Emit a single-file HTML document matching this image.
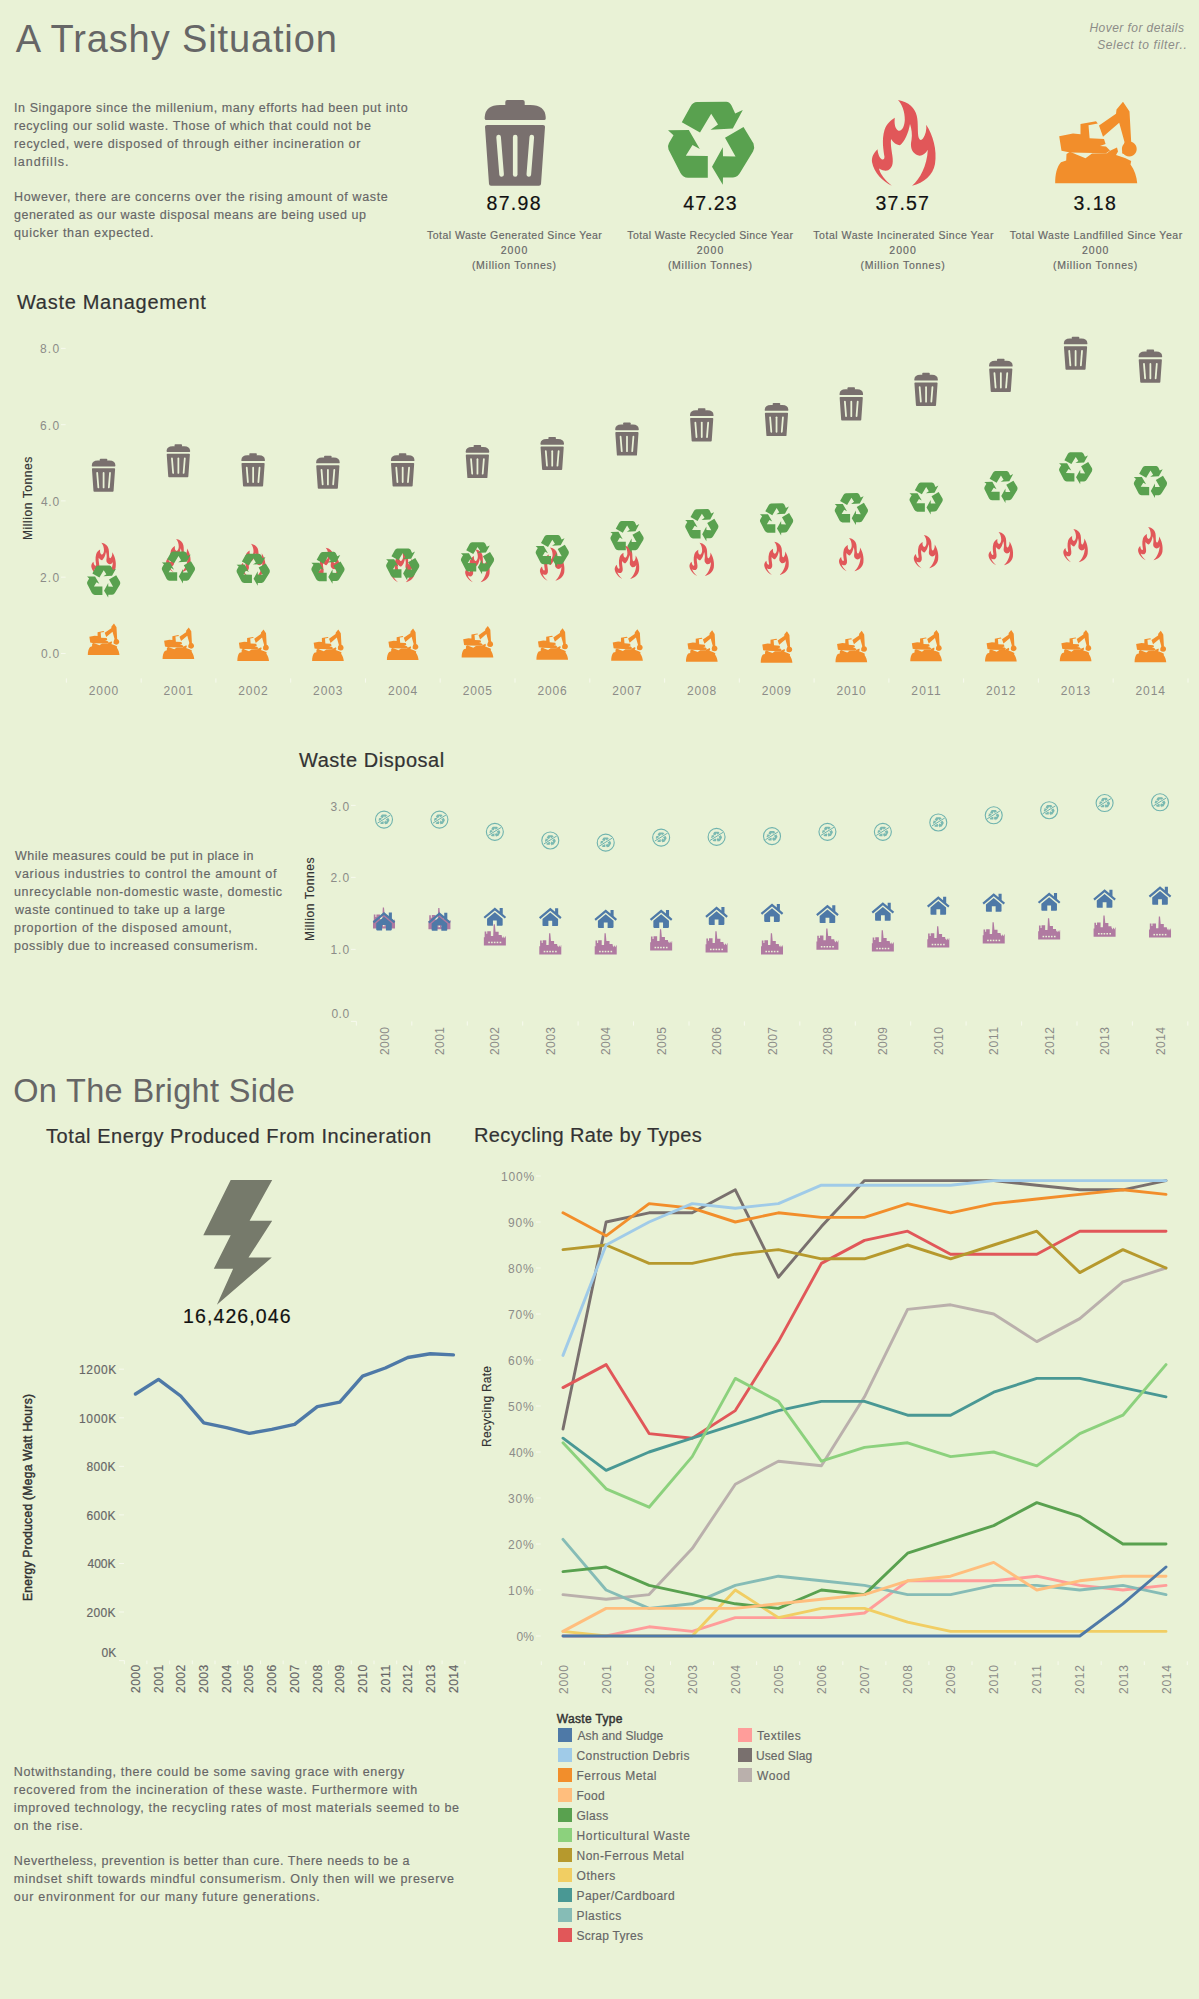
<!DOCTYPE html>
<html><head><meta charset="utf-8"><title>A Trashy Situation</title>
<style>
html,body{margin:0;padding:0;background:#E9F2D6;}
body{width:1199px;height:1999px;position:relative;overflow:hidden;font-family:"Liberation Sans",sans-serif;}
.t{position:absolute;height:60px;line-height:60px;white-space:pre;}
svg{position:absolute;left:0;top:0;}
</style></head><body>
<svg width="1199" height="1999" viewBox="0 0 1199 1999">
<defs><g id="i-recycle"><path d="M318,322 L405,165 Q428,120 470,120 L762,118 Q797,120 815,155 L852,235 L928,200 L828,385 L605,398 L680,345 L612,238 L500,425 Z" fill="#59A14F"/><path d="M935,370 L1035,535 Q1050,575 1030,615 L905,820 Q880,870 830,875 L730,876 L728,948 L620,768 L728,572 L730,662 L855,665 L750,478 Z" fill="#59A14F"/><path d="M180,402 L388,400 L498,590 L425,550 L358,658 L578,660 L578,878 L380,878 Q330,875 305,830 L185,595 Q172,560 190,530 L235,452 Z" fill="#59A14F"/></g><g id="i-flame"><path d="M418,958 C330,915 240,830 220,720 C215,670 235,630 275,592 C280,640 295,680 320,695 Q345,700 345,670 C335,600 315,500 345,400 C365,340 410,300 448,278 C442,330 448,385 480,405 C520,420 545,360 548,300 C550,220 520,140 480,100 C590,120 650,180 668,260 C685,330 672,430 688,480 Q705,515 730,485 C755,450 768,400 762,348 C830,450 872,600 850,740 C830,850 740,930 620,958 C700,890 770,760 778,598 C750,650 700,672 660,645 C615,615 600,570 615,500 C625,440 615,390 600,340 C585,430 545,520 500,552 C460,550 430,520 410,490 C400,580 440,680 425,740 C410,800 370,830 290,785 C300,840 350,900 418,958 Z" fill="#E15759"/></g><g id="i-exc"><path d="M152,932 C150,850 170,760 210,722 L262,705 L265,640 L300,618 L370,648 L455,682 L520,634 L670,632 L700,608 L770,575 L780,615 L760,650 L850,680 L912,710 L905,745 C945,800 968,870 972,932 Z" fill="#F28E2B"/><path d="M192,462 L330,436 L405,442 L405,340 L560,312 L578,335 L485,352 L496,482 L640,490 L656,540 L600,560 L660,566 L700,606 L660,632 L300,625 L215,608 Z" fill="#F28E2B"/><path d="M590,355 L760,238 L765,195 L830,118 L895,215 L912,520 L860,650 L820,632 L845,520 L792,328 L630,468 Z" fill="#F28E2B"/><path d="M893,516 A74,74 0 1 1 892.9,516 Z" fill="#F28E2B"/></g><g id="i-trash"><rect x="505.3" y="100" width="19.4" height="7" rx="2" fill="#79706E"/><path d="M484.7,118.5 L484.7,117 Q485.5,105 500,105 L530.4,105 Q544.9,105 545.7,117 L545.7,118.5 Q545.7,120 544.2,120 L486.2,120 Q484.7,120 484.7,118.5 Z" fill="#79706E"/><path d="M487,125 L543,125 Q545.2,125 545,127 L541,184 Q540.8,185.8 539,185.8 L491,185.8 Q489.2,185.8 489,184 L485,127 Q484.8,125 487,125 Z" fill="#79706E"/><g stroke="#E9F2D6" stroke-width="4.6" stroke-linecap="round"><line x1="498.6" y1="137" x2="501.6" y2="174.5"/><line x1="515.2" y1="137" x2="515.2" y2="174.5"/><line x1="531.8" y1="137" x2="528.8" y2="174.5"/></g></g><g id="i-house" fill="#4E79A7"><path d="M-11.3,0.1 L0,-9.4 L4.8,-5.4 L4.8,-8.9 L7.9,-8.9 L7.9,-2.8 L11.3,0.1 L9.9,1.8 L0,-6.4 L-9.9,1.8 Z"/><path d="M-7.8,1.9 L0,-4.6 L7.8,1.9 L7.8,8.2 Q7.8,9 7,9 L1.9,9 L1.9,3.6 L-1.9,3.6 L-1.9,9 L-7,9 Q-7.8,9 -7.8,8.2 Z"/></g><g id="i-factory"><path fill="#B07AA1" d="M-11,10.6 L-11,2.4 L-10.2,2.4 L-10.2,-3.4 L-8.6,-3.4 L-8.6,-1 L-7.6,-1 L-7.6,-3.6 L-4,-3.6 L-4,1.2 L-1.7,1.2 L-1.2,-10.6 L0,-10.6 L0.7,-3 L3.8,-3 L3.8,0.2 L6.8,0.2 L7,1.6 L8.2,3.4 L8.8,1.4 L10,3.4 L10.6,1.4 L11,1.4 L11,10.6 Z"/><rect x="-6.6" y="6.9" width="1.6" height="1.5" fill="#E9F2D6"/><rect x="-3.8" y="6.9" width="1.6" height="1.5" fill="#E9F2D6"/><rect x="-1.0" y="6.9" width="1.6" height="1.5" fill="#E9F2D6"/><rect x="1.8" y="6.9" width="1.6" height="1.5" fill="#E9F2D6"/><rect x="4.8" y="6.9" width="1.6" height="1.5" fill="#E9F2D6"/></g><g id="i-norec"><circle r="8.5" fill="none" stroke="#6FB3AE" stroke-width="1.1"/><g transform="scale(0.0125) translate(-609,-533)" opacity="0.9"><path d="M318,322 L405,165 Q428,120 470,120 L762,118 Q797,120 815,155 L852,235 L928,200 L828,385 L605,398 L680,345 L612,238 L500,425 Z" fill="#6FB3AE"/><path d="M935,370 L1035,535 Q1050,575 1030,615 L905,820 Q880,870 830,875 L730,876 L728,948 L620,768 L728,572 L730,662 L855,665 L750,478 Z" fill="#6FB3AE"/><path d="M180,402 L388,400 L498,590 L425,550 L358,658 L578,660 L578,878 L380,878 Q330,875 305,830 L185,595 Q172,560 190,530 L235,452 Z" fill="#6FB3AE"/></g><line x1="-6.6" y1="3.6" x2="6.6" y2="-4.6" stroke="#E9F2D6" stroke-width="2.2"/><line x1="-6.6" y1="3.6" x2="6.6" y2="-4.6" stroke="#6FB3AE" stroke-width="1"/></g></defs>
<use href="#i-trash"/>
<use href="#i-recycle" transform="translate(650,90) scale(0.1)"/>
<use href="#i-flame" transform="translate(850,90) scale(0.1)"/>
<use href="#i-exc" transform="translate(1040,90) scale(0.1)"/>
<line x1="61" x2="65.6" y1="653.5" y2="653.5" stroke="#F7FAEE" stroke-width="1"/>
<line x1="61" x2="65.6" y1="577.2" y2="577.2" stroke="#F7FAEE" stroke-width="1"/>
<line x1="61" x2="65.6" y1="500.9" y2="500.9" stroke="#F7FAEE" stroke-width="1"/>
<line x1="61" x2="65.6" y1="424.7" y2="424.7" stroke="#F7FAEE" stroke-width="1"/>
<line x1="61" x2="65.6" y1="348.4" y2="348.4" stroke="#F7FAEE" stroke-width="1"/>
<line x1="66.4" x2="66.4" y1="678.4" y2="682.6" stroke="#F7FAEE" stroke-width="1"/>
<line x1="141.2" x2="141.2" y1="678.4" y2="682.6" stroke="#F7FAEE" stroke-width="1"/>
<line x1="215.9" x2="215.9" y1="678.4" y2="682.6" stroke="#F7FAEE" stroke-width="1"/>
<line x1="290.7" x2="290.7" y1="678.4" y2="682.6" stroke="#F7FAEE" stroke-width="1"/>
<line x1="365.5" x2="365.5" y1="678.4" y2="682.6" stroke="#F7FAEE" stroke-width="1"/>
<line x1="440.2" x2="440.2" y1="678.4" y2="682.6" stroke="#F7FAEE" stroke-width="1"/>
<line x1="515.0" x2="515.0" y1="678.4" y2="682.6" stroke="#F7FAEE" stroke-width="1"/>
<line x1="589.8" x2="589.8" y1="678.4" y2="682.6" stroke="#F7FAEE" stroke-width="1"/>
<line x1="664.6" x2="664.6" y1="678.4" y2="682.6" stroke="#F7FAEE" stroke-width="1"/>
<line x1="739.3" x2="739.3" y1="678.4" y2="682.6" stroke="#F7FAEE" stroke-width="1"/>
<line x1="814.1" x2="814.1" y1="678.4" y2="682.6" stroke="#F7FAEE" stroke-width="1"/>
<line x1="888.9" x2="888.9" y1="678.4" y2="682.6" stroke="#F7FAEE" stroke-width="1"/>
<line x1="963.6" x2="963.6" y1="678.4" y2="682.6" stroke="#F7FAEE" stroke-width="1"/>
<line x1="1038.4" x2="1038.4" y1="678.4" y2="682.6" stroke="#F7FAEE" stroke-width="1"/>
<line x1="1113.2" x2="1113.2" y1="678.4" y2="682.6" stroke="#F7FAEE" stroke-width="1"/>
<line x1="1188.0" x2="1188.0" y1="678.4" y2="682.6" stroke="#F7FAEE" stroke-width="1"/>
<use href="#i-trash" transform="translate(103.60,475.25) scale(0.38600) translate(-515.2,-142.9)"/>
<use href="#i-trash" transform="translate(178.37,460.76) scale(0.38600) translate(-515.2,-142.9)"/>
<use href="#i-trash" transform="translate(253.14,469.91) scale(0.38600) translate(-515.2,-142.9)"/>
<use href="#i-trash" transform="translate(327.91,472.20) scale(0.38600) translate(-515.2,-142.9)"/>
<use href="#i-trash" transform="translate(402.68,469.91) scale(0.38600) translate(-515.2,-142.9)"/>
<use href="#i-trash" transform="translate(477.45,461.52) scale(0.38600) translate(-515.2,-142.9)"/>
<use href="#i-trash" transform="translate(552.22,453.51) scale(0.38600) translate(-515.2,-142.9)"/>
<use href="#i-trash" transform="translate(626.99,439.02) scale(0.38600) translate(-515.2,-142.9)"/>
<use href="#i-trash" transform="translate(701.76,424.90) scale(0.38600) translate(-515.2,-142.9)"/>
<use href="#i-trash" transform="translate(776.53,419.56) scale(0.38600) translate(-515.2,-142.9)"/>
<use href="#i-trash" transform="translate(851.30,403.93) scale(0.38600) translate(-515.2,-142.9)"/>
<use href="#i-trash" transform="translate(926.07,389.43) scale(0.38600) translate(-515.2,-142.9)"/>
<use href="#i-trash" transform="translate(1000.84,375.32) scale(0.38600) translate(-515.2,-142.9)"/>
<use href="#i-trash" transform="translate(1075.61,353.20) scale(0.38600) translate(-515.2,-142.9)"/>
<use href="#i-trash" transform="translate(1150.38,366.17) scale(0.38600) translate(-515.2,-142.9)"/>
<use href="#i-exc" transform="translate(103.60,639.30) scale(0.03860) translate(-561,-525)"/>
<use href="#i-exc" transform="translate(178.37,643.30) scale(0.03860) translate(-561,-525)"/>
<use href="#i-exc" transform="translate(253.14,645.20) scale(0.03860) translate(-561,-525)"/>
<use href="#i-exc" transform="translate(327.91,645.20) scale(0.03860) translate(-561,-525)"/>
<use href="#i-exc" transform="translate(402.68,644.30) scale(0.03860) translate(-561,-525)"/>
<use href="#i-exc" transform="translate(477.45,641.70) scale(0.03860) translate(-561,-525)"/>
<use href="#i-exc" transform="translate(552.22,644.00) scale(0.03860) translate(-561,-525)"/>
<use href="#i-exc" transform="translate(626.99,645.00) scale(0.03860) translate(-561,-525)"/>
<use href="#i-exc" transform="translate(701.76,646.00) scale(0.03860) translate(-561,-525)"/>
<use href="#i-exc" transform="translate(776.53,647.00) scale(0.03860) translate(-561,-525)"/>
<use href="#i-exc" transform="translate(851.30,646.50) scale(0.03860) translate(-561,-525)"/>
<use href="#i-exc" transform="translate(926.07,645.60) scale(0.03860) translate(-561,-525)"/>
<use href="#i-exc" transform="translate(1000.84,645.80) scale(0.03860) translate(-561,-525)"/>
<use href="#i-exc" transform="translate(1075.61,645.60) scale(0.03860) translate(-561,-525)"/>
<use href="#i-exc" transform="translate(1150.38,646.50) scale(0.03860) translate(-561,-525)"/>
<use href="#i-flame" transform="translate(103.60,559.30) scale(0.03860) translate(-538,-529)"/>
<use href="#i-flame" transform="translate(178.37,555.60) scale(0.03860) translate(-538,-529)"/>
<use href="#i-flame" transform="translate(253.14,560.30) scale(0.03860) translate(-538,-529)"/>
<use href="#i-flame" transform="translate(327.91,564.30) scale(0.03860) translate(-538,-529)"/>
<use href="#i-flame" transform="translate(402.68,565.70) scale(0.03860) translate(-538,-529)"/>
<use href="#i-flame" transform="translate(477.45,565.70) scale(0.03860) translate(-538,-529)"/>
<use href="#i-flame" transform="translate(552.22,564.10) scale(0.03860) translate(-538,-529)"/>
<use href="#i-flame" transform="translate(626.99,562.40) scale(0.03860) translate(-538,-529)"/>
<use href="#i-flame" transform="translate(701.76,559.40) scale(0.03860) translate(-538,-529)"/>
<use href="#i-flame" transform="translate(776.53,558.40) scale(0.03860) translate(-538,-529)"/>
<use href="#i-flame" transform="translate(851.30,554.60) scale(0.03860) translate(-538,-529)"/>
<use href="#i-flame" transform="translate(926.07,551.60) scale(0.03860) translate(-538,-529)"/>
<use href="#i-flame" transform="translate(1000.84,548.60) scale(0.03860) translate(-538,-529)"/>
<use href="#i-flame" transform="translate(1075.61,545.60) scale(0.03860) translate(-538,-529)"/>
<use href="#i-flame" transform="translate(1150.38,543.60) scale(0.03860) translate(-538,-529)"/>
<use href="#i-recycle" transform="translate(103.60,581.56) scale(0.03860) translate(-609,-533)"/>
<use href="#i-recycle" transform="translate(178.37,567.45) scale(0.03860) translate(-609,-533)"/>
<use href="#i-recycle" transform="translate(253.14,569.74) scale(0.03860) translate(-609,-533)"/>
<use href="#i-recycle" transform="translate(327.91,567.83) scale(0.03860) translate(-609,-533)"/>
<use href="#i-recycle" transform="translate(402.68,564.40) scale(0.03860) translate(-609,-533)"/>
<use href="#i-recycle" transform="translate(477.45,558.29) scale(0.03860) translate(-609,-533)"/>
<use href="#i-recycle" transform="translate(552.22,551.05) scale(0.03860) translate(-609,-533)"/>
<use href="#i-recycle" transform="translate(626.99,536.94) scale(0.03860) translate(-609,-533)"/>
<use href="#i-recycle" transform="translate(701.76,525.11) scale(0.03860) translate(-609,-533)"/>
<use href="#i-recycle" transform="translate(776.53,519.39) scale(0.03860) translate(-609,-533)"/>
<use href="#i-recycle" transform="translate(851.30,509.09) scale(0.03860) translate(-609,-533)"/>
<use href="#i-recycle" transform="translate(926.07,498.41) scale(0.03860) translate(-609,-533)"/>
<use href="#i-recycle" transform="translate(1000.84,486.97) scale(0.03860) translate(-609,-533)"/>
<use href="#i-recycle" transform="translate(1075.61,468.28) scale(0.03860) translate(-609,-533)"/>
<use href="#i-recycle" transform="translate(1150.38,482.01) scale(0.03860) translate(-609,-533)"/>
<line x1="351" x2="355.6" y1="949.4" y2="949.4" stroke="#F7FAEE" stroke-width="1"/>
<line x1="351" x2="355.6" y1="877.4" y2="877.4" stroke="#F7FAEE" stroke-width="1"/>
<line x1="351" x2="355.6" y1="805.4" y2="805.4" stroke="#F7FAEE" stroke-width="1"/>
<path d="M351,1021.4 L356.4,1021.4 L356.4,1025.6" fill="none" stroke="#F7FAEE" stroke-width="1"/>
<line x1="411.8" x2="411.8" y1="1021.4" y2="1025.6" stroke="#F7FAEE" stroke-width="1"/>
<line x1="467.3" x2="467.3" y1="1021.4" y2="1025.6" stroke="#F7FAEE" stroke-width="1"/>
<line x1="522.7" x2="522.7" y1="1021.4" y2="1025.6" stroke="#F7FAEE" stroke-width="1"/>
<line x1="578.1" x2="578.1" y1="1021.4" y2="1025.6" stroke="#F7FAEE" stroke-width="1"/>
<line x1="633.5" x2="633.5" y1="1021.4" y2="1025.6" stroke="#F7FAEE" stroke-width="1"/>
<line x1="689.0" x2="689.0" y1="1021.4" y2="1025.6" stroke="#F7FAEE" stroke-width="1"/>
<line x1="744.4" x2="744.4" y1="1021.4" y2="1025.6" stroke="#F7FAEE" stroke-width="1"/>
<line x1="799.8" x2="799.8" y1="1021.4" y2="1025.6" stroke="#F7FAEE" stroke-width="1"/>
<line x1="855.3" x2="855.3" y1="1021.4" y2="1025.6" stroke="#F7FAEE" stroke-width="1"/>
<line x1="910.7" x2="910.7" y1="1021.4" y2="1025.6" stroke="#F7FAEE" stroke-width="1"/>
<line x1="966.1" x2="966.1" y1="1021.4" y2="1025.6" stroke="#F7FAEE" stroke-width="1"/>
<line x1="1021.6" x2="1021.6" y1="1021.4" y2="1025.6" stroke="#F7FAEE" stroke-width="1"/>
<line x1="1077.0" x2="1077.0" y1="1021.4" y2="1025.6" stroke="#F7FAEE" stroke-width="1"/>
<line x1="1132.4" x2="1132.4" y1="1021.4" y2="1025.6" stroke="#F7FAEE" stroke-width="1"/>
<line x1="1187.8" x2="1187.8" y1="1021.4" y2="1025.6" stroke="#F7FAEE" stroke-width="1"/>
<use href="#i-norec" transform="translate(384.00,819.60)"/>
<use href="#i-factory" transform="translate(384.00,918.00)"/>
<use href="#i-house" transform="translate(384.00,921.40)"/>
<use href="#i-norec" transform="translate(439.43,819.60)"/>
<use href="#i-factory" transform="translate(439.43,918.70)"/>
<use href="#i-house" transform="translate(439.43,921.70)"/>
<use href="#i-norec" transform="translate(494.86,831.84)"/>
<use href="#i-factory" transform="translate(494.86,934.80)"/>
<use href="#i-house" transform="translate(494.86,916.80)"/>
<use href="#i-norec" transform="translate(550.29,840.48)"/>
<use href="#i-factory" transform="translate(550.29,943.90)"/>
<use href="#i-house" transform="translate(550.29,917.10)"/>
<use href="#i-norec" transform="translate(605.72,842.64)"/>
<use href="#i-factory" transform="translate(605.72,943.90)"/>
<use href="#i-house" transform="translate(605.72,918.90)"/>
<use href="#i-norec" transform="translate(661.15,837.60)"/>
<use href="#i-factory" transform="translate(661.15,939.90)"/>
<use href="#i-house" transform="translate(661.15,918.90)"/>
<use href="#i-norec" transform="translate(716.58,836.88)"/>
<use href="#i-factory" transform="translate(716.58,941.80)"/>
<use href="#i-house" transform="translate(716.58,915.90)"/>
<use href="#i-norec" transform="translate(772.01,836.16)"/>
<use href="#i-factory" transform="translate(772.01,943.90)"/>
<use href="#i-house" transform="translate(772.01,912.90)"/>
<use href="#i-norec" transform="translate(827.44,831.84)"/>
<use href="#i-factory" transform="translate(827.44,939.10)"/>
<use href="#i-house" transform="translate(827.44,914.10)"/>
<use href="#i-norec" transform="translate(882.87,831.84)"/>
<use href="#i-factory" transform="translate(882.87,940.90)"/>
<use href="#i-house" transform="translate(882.87,911.70)"/>
<use href="#i-norec" transform="translate(938.30,822.48)"/>
<use href="#i-factory" transform="translate(938.30,936.90)"/>
<use href="#i-house" transform="translate(938.30,905.70)"/>
<use href="#i-norec" transform="translate(993.73,815.28)"/>
<use href="#i-factory" transform="translate(993.73,932.80)"/>
<use href="#i-house" transform="translate(993.73,902.70)"/>
<use href="#i-norec" transform="translate(1049.16,810.24)"/>
<use href="#i-factory" transform="translate(1049.16,928.90)"/>
<use href="#i-house" transform="translate(1049.16,901.80)"/>
<use href="#i-norec" transform="translate(1104.59,803.04)"/>
<use href="#i-factory" transform="translate(1104.59,926.10)"/>
<use href="#i-house" transform="translate(1104.59,898.70)"/>
<use href="#i-norec" transform="translate(1160.02,802.32)"/>
<use href="#i-factory" transform="translate(1160.02,927.00)"/>
<use href="#i-house" transform="translate(1160.02,895.70)"/>
<polygon fill="#767A6B" points="230.7,1180.1 272.2,1180.1 249.6,1220.7 272.2,1220.7 248.5,1257.5 271.8,1257.5 216.9,1304.8 233.1,1268.8 213.8,1268.8 230.7,1235.3 203.3,1235.3"/>
<polyline fill="none" stroke="#4E79A7" stroke-width="3.4" stroke-linejoin="round" stroke-linecap="round" points="135.5,1394.0 158.5,1379.4 180.7,1396.0 203.8,1422.9 226.5,1427.6 249.3,1433.4 271.8,1429.3 294.6,1424.4 317.3,1406.6 339.8,1402.2 362.6,1376.2 385.3,1368.0 407.8,1357.5 430.3,1353.7 453.4,1354.9"/>
<line x1="119" x2="124" y1="1612.0" y2="1612.0" stroke="#F7FAEE" stroke-width="1"/>
<line x1="119" x2="124" y1="1563.5" y2="1563.5" stroke="#F7FAEE" stroke-width="1"/>
<line x1="119" x2="124" y1="1514.9" y2="1514.9" stroke="#F7FAEE" stroke-width="1"/>
<line x1="119" x2="124" y1="1466.4" y2="1466.4" stroke="#F7FAEE" stroke-width="1"/>
<line x1="119" x2="124" y1="1417.8" y2="1417.8" stroke="#F7FAEE" stroke-width="1"/>
<line x1="119" x2="124" y1="1369.2" y2="1369.2" stroke="#F7FAEE" stroke-width="1"/>
<path d="M119,1660.6 L124.4,1660.6 L124.4,1664.2" fill="none" stroke="#F7FAEE" stroke-width="1"/>
<line x1="146.9" x2="146.9" y1="1660.6" y2="1664.2" stroke="#F7FAEE" stroke-width="1"/>
<line x1="169.6" x2="169.6" y1="1660.6" y2="1664.2" stroke="#F7FAEE" stroke-width="1"/>
<line x1="192.3" x2="192.3" y1="1660.6" y2="1664.2" stroke="#F7FAEE" stroke-width="1"/>
<line x1="215.0" x2="215.0" y1="1660.6" y2="1664.2" stroke="#F7FAEE" stroke-width="1"/>
<line x1="237.8" x2="237.8" y1="1660.6" y2="1664.2" stroke="#F7FAEE" stroke-width="1"/>
<line x1="260.5" x2="260.5" y1="1660.6" y2="1664.2" stroke="#F7FAEE" stroke-width="1"/>
<line x1="283.2" x2="283.2" y1="1660.6" y2="1664.2" stroke="#F7FAEE" stroke-width="1"/>
<line x1="305.9" x2="305.9" y1="1660.6" y2="1664.2" stroke="#F7FAEE" stroke-width="1"/>
<line x1="328.6" x2="328.6" y1="1660.6" y2="1664.2" stroke="#F7FAEE" stroke-width="1"/>
<line x1="351.3" x2="351.3" y1="1660.6" y2="1664.2" stroke="#F7FAEE" stroke-width="1"/>
<line x1="374.0" x2="374.0" y1="1660.6" y2="1664.2" stroke="#F7FAEE" stroke-width="1"/>
<line x1="396.7" x2="396.7" y1="1660.6" y2="1664.2" stroke="#F7FAEE" stroke-width="1"/>
<line x1="419.4" x2="419.4" y1="1660.6" y2="1664.2" stroke="#F7FAEE" stroke-width="1"/>
<line x1="442.1" x2="442.1" y1="1660.6" y2="1664.2" stroke="#F7FAEE" stroke-width="1"/>
<line x1="464.9" x2="464.9" y1="1660.6" y2="1664.2" stroke="#F7FAEE" stroke-width="1"/>
<line x1="536" x2="540.6" y1="1636.0" y2="1636.0" stroke="#F7FAEE" stroke-width="1"/>
<line x1="536" x2="540.6" y1="1590.0" y2="1590.0" stroke="#F7FAEE" stroke-width="1"/>
<line x1="536" x2="540.6" y1="1544.0" y2="1544.0" stroke="#F7FAEE" stroke-width="1"/>
<line x1="536" x2="540.6" y1="1498.0" y2="1498.0" stroke="#F7FAEE" stroke-width="1"/>
<line x1="536" x2="540.6" y1="1452.0" y2="1452.0" stroke="#F7FAEE" stroke-width="1"/>
<line x1="536" x2="540.6" y1="1406.0" y2="1406.0" stroke="#F7FAEE" stroke-width="1"/>
<line x1="536" x2="540.6" y1="1360.0" y2="1360.0" stroke="#F7FAEE" stroke-width="1"/>
<line x1="536" x2="540.6" y1="1314.0" y2="1314.0" stroke="#F7FAEE" stroke-width="1"/>
<line x1="536" x2="540.6" y1="1268.0" y2="1268.0" stroke="#F7FAEE" stroke-width="1"/>
<line x1="536" x2="540.6" y1="1222.0" y2="1222.0" stroke="#F7FAEE" stroke-width="1"/>
<line x1="536" x2="540.6" y1="1176.0" y2="1176.0" stroke="#F7FAEE" stroke-width="1"/>
<line x1="541.3" x2="541.3" y1="1661.3" y2="1665" stroke="#F7FAEE" stroke-width="1"/>
<line x1="584.4" x2="584.4" y1="1661.3" y2="1665" stroke="#F7FAEE" stroke-width="1"/>
<line x1="627.4" x2="627.4" y1="1661.3" y2="1665" stroke="#F7FAEE" stroke-width="1"/>
<line x1="670.5" x2="670.5" y1="1661.3" y2="1665" stroke="#F7FAEE" stroke-width="1"/>
<line x1="713.6" x2="713.6" y1="1661.3" y2="1665" stroke="#F7FAEE" stroke-width="1"/>
<line x1="756.6" x2="756.6" y1="1661.3" y2="1665" stroke="#F7FAEE" stroke-width="1"/>
<line x1="799.7" x2="799.7" y1="1661.3" y2="1665" stroke="#F7FAEE" stroke-width="1"/>
<line x1="842.8" x2="842.8" y1="1661.3" y2="1665" stroke="#F7FAEE" stroke-width="1"/>
<line x1="885.9" x2="885.9" y1="1661.3" y2="1665" stroke="#F7FAEE" stroke-width="1"/>
<line x1="928.9" x2="928.9" y1="1661.3" y2="1665" stroke="#F7FAEE" stroke-width="1"/>
<line x1="972.0" x2="972.0" y1="1661.3" y2="1665" stroke="#F7FAEE" stroke-width="1"/>
<line x1="1015.1" x2="1015.1" y1="1661.3" y2="1665" stroke="#F7FAEE" stroke-width="1"/>
<line x1="1058.1" x2="1058.1" y1="1661.3" y2="1665" stroke="#F7FAEE" stroke-width="1"/>
<line x1="1101.2" x2="1101.2" y1="1661.3" y2="1665" stroke="#F7FAEE" stroke-width="1"/>
<line x1="1144.3" x2="1144.3" y1="1661.3" y2="1665" stroke="#F7FAEE" stroke-width="1"/>
<line x1="1187.3" x2="1187.3" y1="1661.3" y2="1665" stroke="#F7FAEE" stroke-width="1"/>
<polyline fill="none" stroke="#BAB0AC" stroke-width="2.9" stroke-linejoin="round" stroke-linecap="round" points="563.0,1594.6 606.1,1599.2 649.1,1594.6 692.2,1548.6 735.3,1484.2 778.4,1461.2 821.4,1465.8 864.5,1396.8 907.6,1309.4 950.6,1304.8 993.7,1314.0 1036.8,1341.6 1079.8,1318.6 1122.9,1281.8 1166.0,1268.0"/>
<polyline fill="none" stroke="#79706E" stroke-width="2.9" stroke-linejoin="round" stroke-linecap="round" points="563.0,1429.0 606.1,1222.0 649.1,1212.8 692.2,1212.8 735.3,1189.8 778.4,1277.2 821.4,1226.6 864.5,1180.6 907.6,1180.6 950.6,1180.6 993.7,1180.6 1036.8,1185.2 1079.8,1189.8 1122.9,1189.8 1166.0,1180.6"/>
<polyline fill="none" stroke="#FF9D9A" stroke-width="2.9" stroke-linejoin="round" stroke-linecap="round" points="563.0,1636.0 606.1,1636.0 649.1,1626.8 692.2,1631.4 735.3,1617.6 778.4,1617.6 821.4,1617.6 864.5,1613.0 907.6,1580.8 950.6,1580.8 993.7,1580.8 1036.8,1576.2 1079.8,1585.4 1122.9,1590.0 1166.0,1585.4"/>
<polyline fill="none" stroke="#E15759" stroke-width="2.9" stroke-linejoin="round" stroke-linecap="round" points="563.0,1387.6 606.1,1364.6 649.1,1433.6 692.2,1438.2 735.3,1410.6 778.4,1341.6 821.4,1263.4 864.5,1240.4 907.6,1231.2 950.6,1254.2 993.7,1254.2 1036.8,1254.2 1079.8,1231.2 1122.9,1231.2 1166.0,1231.2"/>
<polyline fill="none" stroke="#86BCB6" stroke-width="2.9" stroke-linejoin="round" stroke-linecap="round" points="563.0,1539.4 606.1,1590.0 649.1,1608.4 692.2,1603.8 735.3,1585.4 778.4,1576.2 821.4,1580.8 864.5,1585.4 907.6,1594.6 950.6,1594.6 993.7,1585.4 1036.8,1585.4 1079.8,1590.0 1122.9,1585.4 1166.0,1594.6"/>
<polyline fill="none" stroke="#499894" stroke-width="2.9" stroke-linejoin="round" stroke-linecap="round" points="563.0,1438.2 606.1,1470.4 649.1,1452.0 692.2,1438.2 735.3,1424.4 778.4,1410.6 821.4,1401.4 864.5,1401.4 907.6,1415.2 950.6,1415.2 993.7,1392.2 1036.8,1378.4 1079.8,1378.4 1122.9,1387.6 1166.0,1396.8"/>
<polyline fill="none" stroke="#F1CE63" stroke-width="2.9" stroke-linejoin="round" stroke-linecap="round" points="563.0,1631.4 606.1,1636.0 649.1,1636.0 692.2,1636.0 735.3,1590.0 778.4,1617.6 821.4,1608.4 864.5,1608.4 907.6,1622.2 950.6,1631.4 993.7,1631.4 1036.8,1631.4 1079.8,1631.4 1122.9,1631.4 1166.0,1631.4"/>
<polyline fill="none" stroke="#B6992D" stroke-width="2.9" stroke-linejoin="round" stroke-linecap="round" points="563.0,1249.6 606.1,1245.0 649.1,1263.4 692.2,1263.4 735.3,1254.2 778.4,1249.6 821.4,1258.8 864.5,1258.8 907.6,1245.0 950.6,1258.8 993.7,1245.0 1036.8,1231.2 1079.8,1272.6 1122.9,1249.6 1166.0,1268.0"/>
<polyline fill="none" stroke="#8CD17D" stroke-width="2.9" stroke-linejoin="round" stroke-linecap="round" points="563.0,1442.8 606.1,1488.8 649.1,1507.2 692.2,1456.6 735.3,1378.4 778.4,1401.4 821.4,1461.2 864.5,1447.4 907.6,1442.8 950.6,1456.6 993.7,1452.0 1036.8,1465.8 1079.8,1433.6 1122.9,1415.2 1166.0,1364.6"/>
<polyline fill="none" stroke="#59A14F" stroke-width="2.9" stroke-linejoin="round" stroke-linecap="round" points="563.0,1571.6 606.1,1567.0 649.1,1585.4 692.2,1594.6 735.3,1603.8 778.4,1608.4 821.4,1590.0 864.5,1594.6 907.6,1553.2 950.6,1539.4 993.7,1525.6 1036.8,1502.6 1079.8,1516.4 1122.9,1544.0 1166.0,1544.0"/>
<polyline fill="none" stroke="#FFBE7D" stroke-width="2.9" stroke-linejoin="round" stroke-linecap="round" points="563.0,1631.4 606.1,1608.4 649.1,1608.4 692.2,1608.4 735.3,1608.4 778.4,1603.8 821.4,1599.2 864.5,1594.6 907.6,1580.8 950.6,1576.2 993.7,1562.4 1036.8,1590.0 1079.8,1580.8 1122.9,1576.2 1166.0,1576.2"/>
<polyline fill="none" stroke="#F28E2B" stroke-width="2.9" stroke-linejoin="round" stroke-linecap="round" points="563.0,1212.8 606.1,1235.8 649.1,1203.6 692.2,1208.2 735.3,1222.0 778.4,1212.8 821.4,1217.4 864.5,1217.4 907.6,1203.6 950.6,1212.8 993.7,1203.6 1036.8,1199.0 1079.8,1194.4 1122.9,1189.8 1166.0,1194.4"/>
<polyline fill="none" stroke="#A0CBE8" stroke-width="2.9" stroke-linejoin="round" stroke-linecap="round" points="563.0,1355.4 606.1,1245.0 649.1,1222.0 692.2,1203.6 735.3,1208.2 778.4,1203.6 821.4,1185.2 864.5,1185.2 907.6,1185.2 950.6,1185.2 993.7,1180.6 1036.8,1180.6 1079.8,1180.6 1122.9,1180.6 1166.0,1180.6"/>
<polyline fill="none" stroke="#4E79A7" stroke-width="2.9" stroke-linejoin="round" stroke-linecap="round" points="563.0,1636.0 606.1,1636.0 649.1,1636.0 692.2,1636.0 735.3,1636.0 778.4,1636.0 821.4,1636.0 864.5,1636.0 907.6,1636.0 950.6,1636.0 993.7,1636.0 1036.8,1636.0 1079.8,1636.0 1122.9,1603.8 1166.0,1567.0"/>
<rect x="558" y="1728" width="14" height="14" fill="#4E79A7"/>
<rect x="558" y="1748" width="14" height="14" fill="#A0CBE8"/>
<rect x="558" y="1768" width="14" height="14" fill="#F28E2B"/>
<rect x="558" y="1788" width="14" height="14" fill="#FFBE7D"/>
<rect x="558" y="1808" width="14" height="14" fill="#59A14F"/>
<rect x="558" y="1828" width="14" height="14" fill="#8CD17D"/>
<rect x="558" y="1848" width="14" height="14" fill="#B6992D"/>
<rect x="558" y="1868" width="14" height="14" fill="#F1CE63"/>
<rect x="558" y="1888" width="14" height="14" fill="#499894"/>
<rect x="558" y="1908" width="14" height="14" fill="#86BCB6"/>
<rect x="558" y="1928" width="14" height="14" fill="#E15759"/>
<rect x="738" y="1728" width="14" height="14" fill="#FF9D9A"/>
<rect x="738" y="1748" width="14" height="14" fill="#79706E"/>
<rect x="738" y="1768" width="14" height="14" fill="#BAB0AC"/>
</svg>
<div class="t" style="left:15.70px;top:9.20px;font-size:38px;color:#666666;letter-spacing:0.871px;">A Trashy Situation</div>
<div class="t" style="left:1089.50px;top:-1.80px;font-size:12px;color:#8c8c88;letter-spacing:0.444px;font-style:italic;">Hover for details</div>
<div class="t" style="left:1097.20px;top:15.30px;font-size:12px;color:#8c8c88;letter-spacing:0.624px;font-style:italic;">Select to filter..</div>
<div class="t" style="left:14.00px;top:78.20px;font-size:12.5px;color:#666666;letter-spacing:0.594px;-webkit-text-stroke:0.16px;">In Singapore since the millenium, many efforts had been put into</div>
<div class="t" style="left:14.00px;top:96.15px;font-size:12.5px;color:#666666;letter-spacing:0.586px;-webkit-text-stroke:0.16px;">recycling our solid waste. Those of which that could not be</div>
<div class="t" style="left:14.00px;top:114.10px;font-size:12.5px;color:#666666;letter-spacing:0.639px;-webkit-text-stroke:0.16px;">recycled, were disposed of through either incineration or</div>
<div class="t" style="left:14.00px;top:132.05px;font-size:12.5px;color:#666666;letter-spacing:1.033px;-webkit-text-stroke:0.16px;">landfills.</div>
<div class="t" style="left:14.00px;top:166.60px;font-size:12.5px;color:#666666;letter-spacing:0.633px;-webkit-text-stroke:0.16px;">However, there are concerns over the rising amount of waste</div>
<div class="t" style="left:14.00px;top:184.60px;font-size:12.5px;color:#666666;letter-spacing:0.506px;-webkit-text-stroke:0.16px;">generated as our waste disposal means are being used up</div>
<div class="t" style="left:14.00px;top:202.60px;font-size:12.5px;color:#666666;letter-spacing:0.652px;-webkit-text-stroke:0.16px;">quicker than expected.</div>
<div class="t" style="left:486.50px;top:172.80px;font-size:19.5px;color:#111111;letter-spacing:1.300px;-webkit-text-stroke:0.2px;">87.98</div>
<div class="t" style="left:683.30px;top:172.80px;font-size:19.5px;color:#111111;letter-spacing:1.100px;-webkit-text-stroke:0.2px;">47.23</div>
<div class="t" style="left:875.50px;top:172.80px;font-size:19.5px;color:#111111;letter-spacing:1.150px;-webkit-text-stroke:0.2px;">37.57</div>
<div class="t" style="left:1073.50px;top:172.80px;font-size:19.5px;color:#111111;letter-spacing:1.433px;-webkit-text-stroke:0.2px;">3.18</div>
<div class="t" style="left:427.00px;top:204.80px;font-size:10.5px;color:#666666;letter-spacing:0.474px;-webkit-text-stroke:0.16px;">Total Waste Generated Since Year</div>
<div class="t" style="left:500.70px;top:219.80px;font-size:10.5px;color:#666666;letter-spacing:1.067px;-webkit-text-stroke:0.16px;">2000</div>
<div class="t" style="left:471.90px;top:234.50px;font-size:10.5px;color:#666666;letter-spacing:0.720px;-webkit-text-stroke:0.16px;">(Million Tonnes)</div>
<div class="t" style="left:627.30px;top:204.80px;font-size:10.5px;color:#666666;letter-spacing:0.400px;-webkit-text-stroke:0.16px;">Total Waste Recycled Since Year</div>
<div class="t" style="left:696.70px;top:219.80px;font-size:10.5px;color:#666666;letter-spacing:1.067px;-webkit-text-stroke:0.16px;">2000</div>
<div class="t" style="left:667.90px;top:234.50px;font-size:10.5px;color:#666666;letter-spacing:0.720px;-webkit-text-stroke:0.16px;">(Million Tonnes)</div>
<div class="t" style="left:813.30px;top:204.80px;font-size:10.5px;color:#666666;letter-spacing:0.536px;-webkit-text-stroke:0.16px;">Total Waste Incinerated Since Year</div>
<div class="t" style="left:889.30px;top:219.80px;font-size:10.5px;color:#666666;letter-spacing:1.067px;-webkit-text-stroke:0.16px;">2000</div>
<div class="t" style="left:860.50px;top:234.50px;font-size:10.5px;color:#666666;letter-spacing:0.720px;-webkit-text-stroke:0.16px;">(Million Tonnes)</div>
<div class="t" style="left:1009.70px;top:204.80px;font-size:10.5px;color:#666666;letter-spacing:0.531px;-webkit-text-stroke:0.16px;">Total Waste Landfilled Since Year</div>
<div class="t" style="left:1081.90px;top:219.80px;font-size:10.5px;color:#666666;letter-spacing:1.067px;-webkit-text-stroke:0.16px;">2000</div>
<div class="t" style="left:1053.10px;top:234.50px;font-size:10.5px;color:#666666;letter-spacing:0.720px;-webkit-text-stroke:0.16px;">(Million Tonnes)</div>
<div class="t" style="left:17.00px;top:271.50px;font-size:20px;color:#333333;letter-spacing:0.707px;-webkit-text-stroke:0.2px;">Waste Management</div>
<div class="t" style="left:299.00px;top:729.50px;font-size:20px;color:#333333;letter-spacing:0.538px;-webkit-text-stroke:0.2px;">Waste Disposal</div>
<div class="t" style="left:13.20px;top:1061.10px;font-size:32.5px;color:#666666;letter-spacing:0.341px;">On The Bright Side</div>
<div class="t" style="left:46.00px;top:1105.50px;font-size:20px;color:#333333;letter-spacing:0.566px;-webkit-text-stroke:0.2px;">Total Energy Produced From Incineration</div>
<div class="t" style="left:474.00px;top:1105.10px;font-size:20px;color:#333333;letter-spacing:0.364px;-webkit-text-stroke:0.2px;">Recycling Rate by Types</div>
<div class="t" style="left:41.00px;top:624.40px;font-size:12px;color:#8c8c88;letter-spacing:0.700px;">0.0</div>
<div class="t" style="left:40.00px;top:548.12px;font-size:12px;color:#8c8c88;letter-spacing:1.200px;">2.0</div>
<div class="t" style="left:41.00px;top:471.84px;font-size:12px;color:#8c8c88;letter-spacing:0.700px;">4.0</div>
<div class="t" style="left:40.00px;top:395.56px;font-size:12px;color:#8c8c88;letter-spacing:1.200px;">6.0</div>
<div class="t" style="left:40.00px;top:319.28px;font-size:12px;color:#8c8c88;letter-spacing:1.200px;">8.0</div>
<div class="t" style="left:88.80px;top:660.90px;font-size:12px;color:#8c8c88;letter-spacing:0.867px;">2000</div>
<div class="t" style="left:163.57px;top:660.90px;font-size:12px;color:#8c8c88;letter-spacing:0.867px;">2001</div>
<div class="t" style="left:238.34px;top:660.90px;font-size:12px;color:#8c8c88;letter-spacing:0.867px;">2002</div>
<div class="t" style="left:313.11px;top:660.90px;font-size:12px;color:#8c8c88;letter-spacing:0.867px;">2003</div>
<div class="t" style="left:387.88px;top:660.90px;font-size:12px;color:#8c8c88;letter-spacing:0.867px;">2004</div>
<div class="t" style="left:462.65px;top:660.90px;font-size:12px;color:#8c8c88;letter-spacing:0.867px;">2005</div>
<div class="t" style="left:537.42px;top:660.90px;font-size:12px;color:#8c8c88;letter-spacing:0.867px;">2006</div>
<div class="t" style="left:612.19px;top:660.90px;font-size:12px;color:#8c8c88;letter-spacing:0.867px;">2007</div>
<div class="t" style="left:686.96px;top:660.90px;font-size:12px;color:#8c8c88;letter-spacing:0.867px;">2008</div>
<div class="t" style="left:761.73px;top:660.90px;font-size:12px;color:#8c8c88;letter-spacing:0.867px;">2009</div>
<div class="t" style="left:836.50px;top:660.90px;font-size:12px;color:#8c8c88;letter-spacing:0.867px;">2010</div>
<div class="t" style="left:911.27px;top:660.90px;font-size:12px;color:#8c8c88;letter-spacing:1.200px;">2011</div>
<div class="t" style="left:986.04px;top:660.90px;font-size:12px;color:#8c8c88;letter-spacing:0.867px;">2012</div>
<div class="t" style="left:1060.81px;top:660.90px;font-size:12px;color:#8c8c88;letter-spacing:0.867px;">2013</div>
<div class="t" style="left:1135.58px;top:660.90px;font-size:12px;color:#8c8c88;letter-spacing:0.867px;">2014</div>
<div class="t" style="left:330.40px;top:776.50px;font-size:12px;color:#8c8c88;letter-spacing:1.000px;">3.0</div>
<div class="t" style="left:330.40px;top:848.30px;font-size:12px;color:#8c8c88;letter-spacing:1.000px;">2.0</div>
<div class="t" style="left:330.40px;top:920.20px;font-size:12px;color:#8c8c88;letter-spacing:1.000px;">1.0</div>
<div class="t" style="left:331.40px;top:984.10px;font-size:12px;color:#8c8c88;letter-spacing:0.500px;">0.0</div>
<div class="t" style="left:15.00px;top:826.00px;font-size:12.5px;color:#666666;letter-spacing:0.461px;-webkit-text-stroke:0.16px;">While measures could be put in place in</div>
<div class="t" style="left:15.00px;top:844.00px;font-size:12.5px;color:#666666;letter-spacing:0.698px;-webkit-text-stroke:0.16px;">various industries to control the amount of</div>
<div class="t" style="left:14.00px;top:862.00px;font-size:12.5px;color:#666666;letter-spacing:0.658px;-webkit-text-stroke:0.16px;">unrecyclable non-domestic waste, domestic</div>
<div class="t" style="left:15.00px;top:880.00px;font-size:12.5px;color:#666666;letter-spacing:0.591px;-webkit-text-stroke:0.16px;">waste continued to take up a large</div>
<div class="t" style="left:14.00px;top:898.00px;font-size:12.5px;color:#666666;letter-spacing:0.742px;-webkit-text-stroke:0.16px;">proportion of the disposed amount,</div>
<div class="t" style="left:14.00px;top:916.00px;font-size:12.5px;color:#666666;letter-spacing:0.576px;-webkit-text-stroke:0.16px;">possibly due to increased consumerism.</div>
<div class="t" style="left:183.00px;top:1286.20px;font-size:19.5px;color:#111111;letter-spacing:1.111px;-webkit-text-stroke:0.2px;">16,426,046</div>
<div class="t" style="left:101.60px;top:1623.10px;font-size:12px;color:#666666;letter-spacing:0.000px;-webkit-text-stroke:0.16px;">0K</div>
<div class="t" style="left:86.40px;top:1582.94px;font-size:12px;color:#666666;letter-spacing:0.400px;-webkit-text-stroke:0.16px;">200K</div>
<div class="t" style="left:87.40px;top:1534.38px;font-size:12px;color:#666666;letter-spacing:0.067px;-webkit-text-stroke:0.16px;">400K</div>
<div class="t" style="left:86.40px;top:1485.82px;font-size:12px;color:#666666;letter-spacing:0.400px;-webkit-text-stroke:0.16px;">600K</div>
<div class="t" style="left:86.40px;top:1437.26px;font-size:12px;color:#666666;letter-spacing:0.400px;-webkit-text-stroke:0.16px;">800K</div>
<div class="t" style="left:79.00px;top:1388.70px;font-size:12px;color:#666666;letter-spacing:0.650px;-webkit-text-stroke:0.16px;">1000K</div>
<div class="t" style="left:79.00px;top:1340.14px;font-size:12px;color:#666666;letter-spacing:0.650px;-webkit-text-stroke:0.16px;">1200K</div>
<div class="t" style="left:516.40px;top:1607.10px;font-size:12px;color:#8c8c88;letter-spacing:0.200px;">0%</div>
<div class="t" style="left:508.00px;top:1561.10px;font-size:12px;color:#8c8c88;letter-spacing:0.800px;">10%</div>
<div class="t" style="left:508.00px;top:1515.10px;font-size:12px;color:#8c8c88;letter-spacing:0.800px;">20%</div>
<div class="t" style="left:508.00px;top:1469.10px;font-size:12px;color:#8c8c88;letter-spacing:0.800px;">30%</div>
<div class="t" style="left:509.00px;top:1423.10px;font-size:12px;color:#8c8c88;letter-spacing:0.300px;">40%</div>
<div class="t" style="left:508.00px;top:1377.10px;font-size:12px;color:#8c8c88;letter-spacing:0.800px;">50%</div>
<div class="t" style="left:508.00px;top:1331.10px;font-size:12px;color:#8c8c88;letter-spacing:0.800px;">60%</div>
<div class="t" style="left:508.00px;top:1285.10px;font-size:12px;color:#8c8c88;letter-spacing:0.800px;">70%</div>
<div class="t" style="left:508.00px;top:1239.10px;font-size:12px;color:#8c8c88;letter-spacing:0.800px;">80%</div>
<div class="t" style="left:508.00px;top:1193.10px;font-size:12px;color:#8c8c88;letter-spacing:0.800px;">90%</div>
<div class="t" style="left:501.00px;top:1147.10px;font-size:12px;color:#8c8c88;letter-spacing:0.867px;">100%</div>
<div class="t" style="left:556.80px;top:1689.00px;font-size:12px;color:#333333;letter-spacing:0.333px;-webkit-text-stroke:0.45px;">Waste Type</div>
<div class="t" style="left:577.50px;top:1706.00px;font-size:12px;color:#666666;letter-spacing:0.077px;-webkit-text-stroke:0.16px;">Ash and Sludge</div>
<div class="t" style="left:576.50px;top:1726.00px;font-size:12px;color:#666666;letter-spacing:0.417px;-webkit-text-stroke:0.16px;">Construction Debris</div>
<div class="t" style="left:576.50px;top:1746.00px;font-size:12px;color:#666666;letter-spacing:0.500px;-webkit-text-stroke:0.16px;">Ferrous Metal</div>
<div class="t" style="left:576.50px;top:1766.00px;font-size:12px;color:#666666;letter-spacing:0.267px;-webkit-text-stroke:0.16px;">Food</div>
<div class="t" style="left:576.50px;top:1786.00px;font-size:12px;color:#666666;letter-spacing:0.275px;-webkit-text-stroke:0.16px;">Glass</div>
<div class="t" style="left:576.50px;top:1806.00px;font-size:12px;color:#666666;letter-spacing:0.694px;-webkit-text-stroke:0.16px;">Horticultural Waste</div>
<div class="t" style="left:576.50px;top:1826.00px;font-size:12px;color:#666666;letter-spacing:0.462px;-webkit-text-stroke:0.16px;">Non-Ferrous Metal</div>
<div class="t" style="left:576.50px;top:1846.00px;font-size:12px;color:#666666;letter-spacing:0.560px;-webkit-text-stroke:0.16px;">Others</div>
<div class="t" style="left:576.50px;top:1866.00px;font-size:12px;color:#666666;letter-spacing:0.436px;-webkit-text-stroke:0.16px;">Paper/Cardboard</div>
<div class="t" style="left:576.50px;top:1886.00px;font-size:12px;color:#666666;letter-spacing:0.471px;-webkit-text-stroke:0.16px;">Plastics</div>
<div class="t" style="left:576.50px;top:1906.00px;font-size:12px;color:#666666;letter-spacing:0.270px;-webkit-text-stroke:0.16px;">Scrap Tyres</div>
<div class="t" style="left:757.00px;top:1706.00px;font-size:12px;color:#666666;letter-spacing:0.543px;-webkit-text-stroke:0.16px;">Textiles</div>
<div class="t" style="left:756.00px;top:1726.00px;font-size:12px;color:#666666;letter-spacing:0.100px;-webkit-text-stroke:0.16px;">Used Slag</div>
<div class="t" style="left:757.00px;top:1746.00px;font-size:12px;color:#666666;letter-spacing:0.600px;-webkit-text-stroke:0.16px;">Wood</div>
<div class="t" style="left:13.80px;top:1741.50px;font-size:12.5px;color:#666666;letter-spacing:0.658px;-webkit-text-stroke:0.16px;">Notwithstanding, there could be some saving grace with energy</div>
<div class="t" style="left:13.80px;top:1759.50px;font-size:12.5px;color:#666666;letter-spacing:0.722px;-webkit-text-stroke:0.16px;">recovered from the incineration of these waste. Furthermore with</div>
<div class="t" style="left:13.80px;top:1777.50px;font-size:12.5px;color:#666666;letter-spacing:0.637px;-webkit-text-stroke:0.16px;">improved technology, the recycling rates of most materials seemed to be</div>
<div class="t" style="left:13.80px;top:1795.50px;font-size:12.5px;color:#666666;letter-spacing:0.655px;-webkit-text-stroke:0.16px;">on the rise.</div>
<div class="t" style="left:13.80px;top:1830.70px;font-size:12.5px;color:#666666;letter-spacing:0.552px;-webkit-text-stroke:0.16px;">Nevertheless, prevention is better than cure. There needs to be a</div>
<div class="t" style="left:13.80px;top:1848.70px;font-size:12.5px;color:#666666;letter-spacing:0.712px;-webkit-text-stroke:0.16px;">mindset shift towards mindful consumerism. Only then will we preserve</div>
<div class="t" style="left:13.80px;top:1866.60px;font-size:12.5px;color:#666666;letter-spacing:0.728px;-webkit-text-stroke:0.16px;">our environment for our many future generations.</div>
<div class="t" style="left:31.30px;top:505.40px;transform-origin:1.00px 34.00px;transform:rotate(-90deg);font-size:12px;color:#333333;letter-spacing:0.569px;-webkit-text-stroke:0.16px;">Million Tonnes</div>
<div class="t" style="left:313.30px;top:906.00px;transform-origin:1.00px 34.00px;transform:rotate(-90deg);font-size:12px;color:#333333;letter-spacing:0.585px;-webkit-text-stroke:0.16px;">Million Tonnes</div>
<div class="t" style="left:387.50px;top:1019.70px;transform-origin:1.00px 34.00px;transform:rotate(-90deg);font-size:12px;color:#8c8c88;letter-spacing:0.433px;">2000</div>
<div class="t" style="left:442.93px;top:1019.70px;transform-origin:1.00px 34.00px;transform:rotate(-90deg);font-size:12px;color:#8c8c88;letter-spacing:0.433px;">2001</div>
<div class="t" style="left:498.36px;top:1019.70px;transform-origin:1.00px 34.00px;transform:rotate(-90deg);font-size:12px;color:#8c8c88;letter-spacing:0.433px;">2002</div>
<div class="t" style="left:553.79px;top:1019.70px;transform-origin:1.00px 34.00px;transform:rotate(-90deg);font-size:12px;color:#8c8c88;letter-spacing:0.433px;">2003</div>
<div class="t" style="left:609.22px;top:1019.70px;transform-origin:1.00px 34.00px;transform:rotate(-90deg);font-size:12px;color:#8c8c88;letter-spacing:0.433px;">2004</div>
<div class="t" style="left:664.65px;top:1019.70px;transform-origin:1.00px 34.00px;transform:rotate(-90deg);font-size:12px;color:#8c8c88;letter-spacing:0.433px;">2005</div>
<div class="t" style="left:720.08px;top:1019.70px;transform-origin:1.00px 34.00px;transform:rotate(-90deg);font-size:12px;color:#8c8c88;letter-spacing:0.433px;">2006</div>
<div class="t" style="left:775.51px;top:1019.70px;transform-origin:1.00px 34.00px;transform:rotate(-90deg);font-size:12px;color:#8c8c88;letter-spacing:0.433px;">2007</div>
<div class="t" style="left:830.94px;top:1019.70px;transform-origin:1.00px 34.00px;transform:rotate(-90deg);font-size:12px;color:#8c8c88;letter-spacing:0.433px;">2008</div>
<div class="t" style="left:886.37px;top:1019.70px;transform-origin:1.00px 34.00px;transform:rotate(-90deg);font-size:12px;color:#8c8c88;letter-spacing:0.433px;">2009</div>
<div class="t" style="left:941.80px;top:1019.70px;transform-origin:1.00px 34.00px;transform:rotate(-90deg);font-size:12px;color:#8c8c88;letter-spacing:0.433px;">2010</div>
<div class="t" style="left:997.23px;top:1019.70px;transform-origin:1.00px 34.00px;transform:rotate(-90deg);font-size:12px;color:#8c8c88;letter-spacing:0.767px;">2011</div>
<div class="t" style="left:1052.66px;top:1019.70px;transform-origin:1.00px 34.00px;transform:rotate(-90deg);font-size:12px;color:#8c8c88;letter-spacing:0.433px;">2012</div>
<div class="t" style="left:1108.09px;top:1019.70px;transform-origin:1.00px 34.00px;transform:rotate(-90deg);font-size:12px;color:#8c8c88;letter-spacing:0.433px;">2013</div>
<div class="t" style="left:1163.52px;top:1019.70px;transform-origin:1.00px 34.00px;transform:rotate(-90deg);font-size:12px;color:#8c8c88;letter-spacing:0.433px;">2014</div>
<div class="t" style="left:31.00px;top:1566.00px;transform-origin:1.00px 34.00px;transform:rotate(-90deg);font-size:12px;color:#333333;letter-spacing:0.312px;-webkit-text-stroke:0.45px;">Energy Produced (Mega Watt Hours)</div>
<div class="t" style="left:138.90px;top:1658.40px;transform-origin:1.00px 34.00px;transform:rotate(-90deg);font-size:12px;color:#666666;letter-spacing:0.467px;-webkit-text-stroke:0.16px;">2000</div>
<div class="t" style="left:161.61px;top:1658.40px;transform-origin:1.00px 34.00px;transform:rotate(-90deg);font-size:12px;color:#666666;letter-spacing:0.467px;-webkit-text-stroke:0.16px;">2001</div>
<div class="t" style="left:184.32px;top:1658.40px;transform-origin:1.00px 34.00px;transform:rotate(-90deg);font-size:12px;color:#666666;letter-spacing:0.467px;-webkit-text-stroke:0.16px;">2002</div>
<div class="t" style="left:207.03px;top:1658.40px;transform-origin:1.00px 34.00px;transform:rotate(-90deg);font-size:12px;color:#666666;letter-spacing:0.467px;-webkit-text-stroke:0.16px;">2003</div>
<div class="t" style="left:229.74px;top:1658.40px;transform-origin:1.00px 34.00px;transform:rotate(-90deg);font-size:12px;color:#666666;letter-spacing:0.467px;-webkit-text-stroke:0.16px;">2004</div>
<div class="t" style="left:252.45px;top:1658.40px;transform-origin:1.00px 34.00px;transform:rotate(-90deg);font-size:12px;color:#666666;letter-spacing:0.467px;-webkit-text-stroke:0.16px;">2005</div>
<div class="t" style="left:275.16px;top:1658.40px;transform-origin:1.00px 34.00px;transform:rotate(-90deg);font-size:12px;color:#666666;letter-spacing:0.467px;-webkit-text-stroke:0.16px;">2006</div>
<div class="t" style="left:297.87px;top:1658.40px;transform-origin:1.00px 34.00px;transform:rotate(-90deg);font-size:12px;color:#666666;letter-spacing:0.467px;-webkit-text-stroke:0.16px;">2007</div>
<div class="t" style="left:320.58px;top:1658.40px;transform-origin:1.00px 34.00px;transform:rotate(-90deg);font-size:12px;color:#666666;letter-spacing:0.467px;-webkit-text-stroke:0.16px;">2008</div>
<div class="t" style="left:343.29px;top:1658.40px;transform-origin:1.00px 34.00px;transform:rotate(-90deg);font-size:12px;color:#666666;letter-spacing:0.467px;-webkit-text-stroke:0.16px;">2009</div>
<div class="t" style="left:366.00px;top:1658.40px;transform-origin:1.00px 34.00px;transform:rotate(-90deg);font-size:12px;color:#666666;letter-spacing:0.467px;-webkit-text-stroke:0.16px;">2010</div>
<div class="t" style="left:388.71px;top:1658.40px;transform-origin:1.00px 34.00px;transform:rotate(-90deg);font-size:12px;color:#666666;letter-spacing:0.800px;-webkit-text-stroke:0.16px;">2011</div>
<div class="t" style="left:411.42px;top:1658.40px;transform-origin:1.00px 34.00px;transform:rotate(-90deg);font-size:12px;color:#666666;letter-spacing:0.467px;-webkit-text-stroke:0.16px;">2012</div>
<div class="t" style="left:434.13px;top:1658.40px;transform-origin:1.00px 34.00px;transform:rotate(-90deg);font-size:12px;color:#666666;letter-spacing:0.467px;-webkit-text-stroke:0.16px;">2013</div>
<div class="t" style="left:456.84px;top:1658.40px;transform-origin:1.00px 34.00px;transform:rotate(-90deg);font-size:12px;color:#666666;letter-spacing:0.467px;-webkit-text-stroke:0.16px;">2014</div>
<div class="t" style="left:490.40px;top:1412.30px;transform-origin:1.00px 34.00px;transform:rotate(-90deg);font-size:12px;color:#333333;letter-spacing:0.250px;-webkit-text-stroke:0.16px;">Recycing Rate</div>
<div class="t" style="left:566.60px;top:1659.00px;transform-origin:1.00px 34.00px;transform:rotate(-90deg);font-size:12px;color:#8c8c88;letter-spacing:0.733px;">2000</div>
<div class="t" style="left:609.67px;top:1659.00px;transform-origin:1.00px 34.00px;transform:rotate(-90deg);font-size:12px;color:#8c8c88;letter-spacing:0.733px;">2001</div>
<div class="t" style="left:652.74px;top:1659.00px;transform-origin:1.00px 34.00px;transform:rotate(-90deg);font-size:12px;color:#8c8c88;letter-spacing:0.733px;">2002</div>
<div class="t" style="left:695.81px;top:1659.00px;transform-origin:1.00px 34.00px;transform:rotate(-90deg);font-size:12px;color:#8c8c88;letter-spacing:0.733px;">2003</div>
<div class="t" style="left:738.88px;top:1659.00px;transform-origin:1.00px 34.00px;transform:rotate(-90deg);font-size:12px;color:#8c8c88;letter-spacing:0.733px;">2004</div>
<div class="t" style="left:781.95px;top:1659.00px;transform-origin:1.00px 34.00px;transform:rotate(-90deg);font-size:12px;color:#8c8c88;letter-spacing:0.733px;">2005</div>
<div class="t" style="left:825.02px;top:1659.00px;transform-origin:1.00px 34.00px;transform:rotate(-90deg);font-size:12px;color:#8c8c88;letter-spacing:0.733px;">2006</div>
<div class="t" style="left:868.09px;top:1659.00px;transform-origin:1.00px 34.00px;transform:rotate(-90deg);font-size:12px;color:#8c8c88;letter-spacing:0.733px;">2007</div>
<div class="t" style="left:911.16px;top:1659.00px;transform-origin:1.00px 34.00px;transform:rotate(-90deg);font-size:12px;color:#8c8c88;letter-spacing:0.733px;">2008</div>
<div class="t" style="left:954.23px;top:1659.00px;transform-origin:1.00px 34.00px;transform:rotate(-90deg);font-size:12px;color:#8c8c88;letter-spacing:0.733px;">2009</div>
<div class="t" style="left:997.30px;top:1659.00px;transform-origin:1.00px 34.00px;transform:rotate(-90deg);font-size:12px;color:#8c8c88;letter-spacing:0.733px;">2010</div>
<div class="t" style="left:1040.37px;top:1659.00px;transform-origin:1.00px 34.00px;transform:rotate(-90deg);font-size:12px;color:#8c8c88;letter-spacing:1.067px;">2011</div>
<div class="t" style="left:1083.44px;top:1659.00px;transform-origin:1.00px 34.00px;transform:rotate(-90deg);font-size:12px;color:#8c8c88;letter-spacing:0.733px;">2012</div>
<div class="t" style="left:1126.51px;top:1659.00px;transform-origin:1.00px 34.00px;transform:rotate(-90deg);font-size:12px;color:#8c8c88;letter-spacing:0.733px;">2013</div>
<div class="t" style="left:1169.58px;top:1659.00px;transform-origin:1.00px 34.00px;transform:rotate(-90deg);font-size:12px;color:#8c8c88;letter-spacing:0.733px;">2014</div>
</body></html>
